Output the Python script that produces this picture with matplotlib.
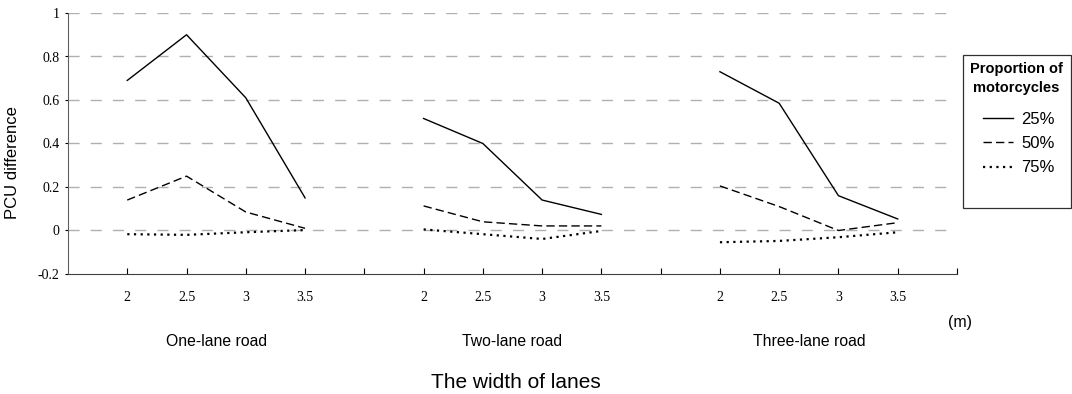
import matplotlib
matplotlib.use("Agg")
import matplotlib.pyplot as plt
from matplotlib.patches import Rectangle

widths = ["2", "2.5", "3", "3.5"]
roads = ["One-lane road", "Two-lane road", "Three-lane road"]
series_labels = ["25%", "50%", "75%"]

one_lane = {
    "25%": [0.69, 0.90, 0.61, 0.15],
    "50%": [0.14, 0.25, 0.085, 0.01],
    "75%": [-0.017, -0.02, -0.008, 0.002],
}
two_lane = {
    "25%": [0.515, 0.40, 0.14, 0.074],
    "50%": [0.113, 0.04, 0.021, 0.021],
    "75%": [0.005, -0.017, -0.039, -0.002],
}
three_lane = {
    "25%": [0.73, 0.585, 0.16, 0.053],
    "50%": [0.205, 0.11, 0.0, 0.036],
    "75%": [-0.054, -0.048, -0.031, -0.008],
}
groups = [one_lane, two_lane, three_lane]

styles = {"25%": "-", "50%": (0, (6, 3)), "75%": (0, (1, 2))}
lws = {"25%": 1.0, "50%": 1.0, "75%": 1.6}

W, H = 1072, 394
fig = plt.figure(figsize=(W/100, H/100), dpi=100)
ax = fig.add_axes([68/W, 1-274/H, (957-68)/W, (274-13)/H])

handles = {}
for gi, g in enumerate(groups):
    pos = [gi*5 + 1 + i for i in range(len(widths))]
    for s in series_labels:
        h, = ax.plot(pos, g[s], color="black", linestyle=styles[s], lw=lws[s])
        handles[s] = h

ax.set_xlim(0, 15)
ax.set_ylim(-0.2, 1.0)
ax.set_xticks(range(1, 16))
xl = []
for gi in range(3):
    xl += widths + [""]
ax.set_xticklabels(xl, fontfamily="Liberation Serif", fontsize=10)
ax.tick_params(axis="x", direction="in", length=4, pad=12)
ax.set_yticks([-0.2, 0, 0.2, 0.4, 0.6, 0.8, 1.0])
ax.set_yticklabels(["-0.2", "0", "0.2", "0.4", "0.6", "0.8", "1"], fontfamily="Liberation Serif", fontsize=10)
ax.tick_params(axis="y", direction="out", length=2, pad=4)
for y in [0, 0.2, 0.4, 0.6, 0.8, 1.0]:
    ax.axhline(y, color="#b0b0b0", lw=1, linestyle=(0, (8, 8)), zorder=0)
ax.spines["top"].set_visible(False)
ax.spines["right"].set_visible(False)
ax.spines["left"].set_color("#606060")
ax.spines["bottom"].set_color("#404040")
ax.set_ylabel("PCU difference", fontfamily="Liberation Sans", fontsize=12)
ax.yaxis.set_label_coords((20-68)/(957-68), (274-163)/(274-13))

for gi, r in enumerate(roads):
    fig.text((68 + (gi*5 + 2.5)*(957-68)/15)/W, 1-342/H, r, ha="center", va="center",
             fontfamily="Liberation Sans", fontsize=11.3)
fig.text(960/W, 1-323/H, "(m)", ha="center", va="center", fontfamily="Liberation Sans", fontsize=11.5)
fig.text(516/W, 1-383/H, "The width of lanes", ha="center", va="center",
         fontfamily="Liberation Sans", fontsize=15)

fig.patches.append(Rectangle((963/W, 1-208/H), (1071-963)/W, (208-55)/H,
                             transform=fig.transFigure, fill=False, edgecolor="#303030", lw=0.9))
fig.text(1016/W, 1-78.5/H, "Proportion of\nmotorcycles", ha="center", va="center",
         fontfamily="Liberation Sans", fontsize=10.5, fontweight="bold", linespacing=1.45)
leg = fig.legend([handles[s] for s in series_labels], series_labels,
                 loc="upper left", bbox_to_anchor=(983/W, 1-112/H), frameon=False,
                 prop={"family": "Liberation Sans", "size": 12}, handlelength=1.8,
                 handletextpad=0.5, labelspacing=0.55, borderpad=0, borderaxespad=0)

fig.savefig("out.png", dpi=100)
